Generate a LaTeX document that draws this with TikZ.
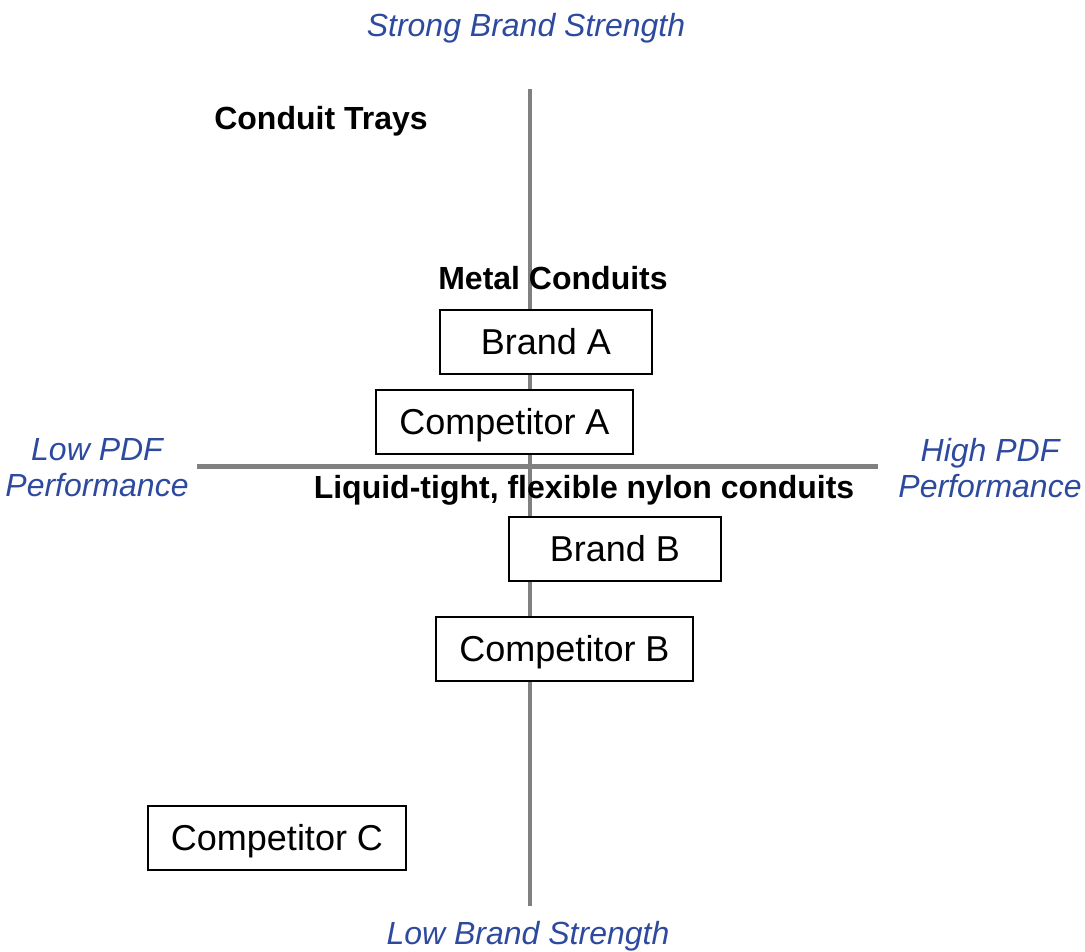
\documentclass[tikz,border=0pt]{standalone}
\usepackage{fontspec}
\setmainfont{Liberation Sans}
\usepackage{xcolor}
\usepackage{tikz}
\usetikzlibrary{calc}

\definecolor{axisblue}{RGB}{46,74,158}
\definecolor{axisgray}{RGB}{128,128,128}

\tikzset{
  brandbox/.style={draw=black, line width=1.5pt, minimum height=64pt, inner sep=0pt,
    text height=25.8pt, text depth=0pt, font=\fontsize{36}{40}\selectfont},
  segtext/.style={font=\bfseries\fontsize{32}{36}\selectfont, inner sep=0pt,
    text height=22.9pt, text depth=0pt},
  axistext/.style={text=axisblue, font=\itshape\fontsize{32}{36}\selectfont,
    align=center, inner sep=0pt},
  axisline/.style={text height=22.9pt, text depth=0pt}
}

\begin{document}
\begin{tikzpicture}[x=1pt,y=-1pt]
\useasboundingbox (0,0) rectangle (1085,952);

% Define the axis end points
\coordinate (top) at (530,89);
\coordinate (bottom) at (530,906);
\coordinate (left) at (197,466);
\coordinate (right) at (878,466);

% Draw the two axes
\draw[axisgray, line width=4pt] (top) -- (bottom);
\draw[axisgray, line width=5pt] (left) -- (right);

% Axis labels
\node[axistext, axisline] (strong) at (526,25) {Strong Brand Strength};
\node[axistext, axisline] (weak) at (528,933) {Low Brand Strength};
\node[axistext] (lowpdf) at (97,468) {Low PDF\\Performance};
\node[axistext] (highpdf) at (990,468) {High PDF\\Performance};

% Segment labels
\node[segtext] (trays) at (321,118) {Conduit Trays};
\node[segtext] (metal) at (553,278) {Metal Conduits};
\node[segtext] (nylon) at (584,487) {Liquid-tight, flexible nylon conduits};

% Brands and competitors
\node[brandbox, fill=white, minimum width=212pt] (brandA) at (546,342) {Brand A};
\node[brandbox, fill=white, minimum width=257pt] (compA) at (504.5,422) {Competitor A};
\node[brandbox, fill=white, minimum width=212pt] (brandB) at (615,549) {Brand B};
\node[brandbox, fill=white, minimum width=257pt] (compB) at (564.5,649) {Competitor B};
\node[brandbox, fill=white, minimum width=258pt] (compC) at (277,838) {Competitor C};

\end{tikzpicture}
\end{document}
